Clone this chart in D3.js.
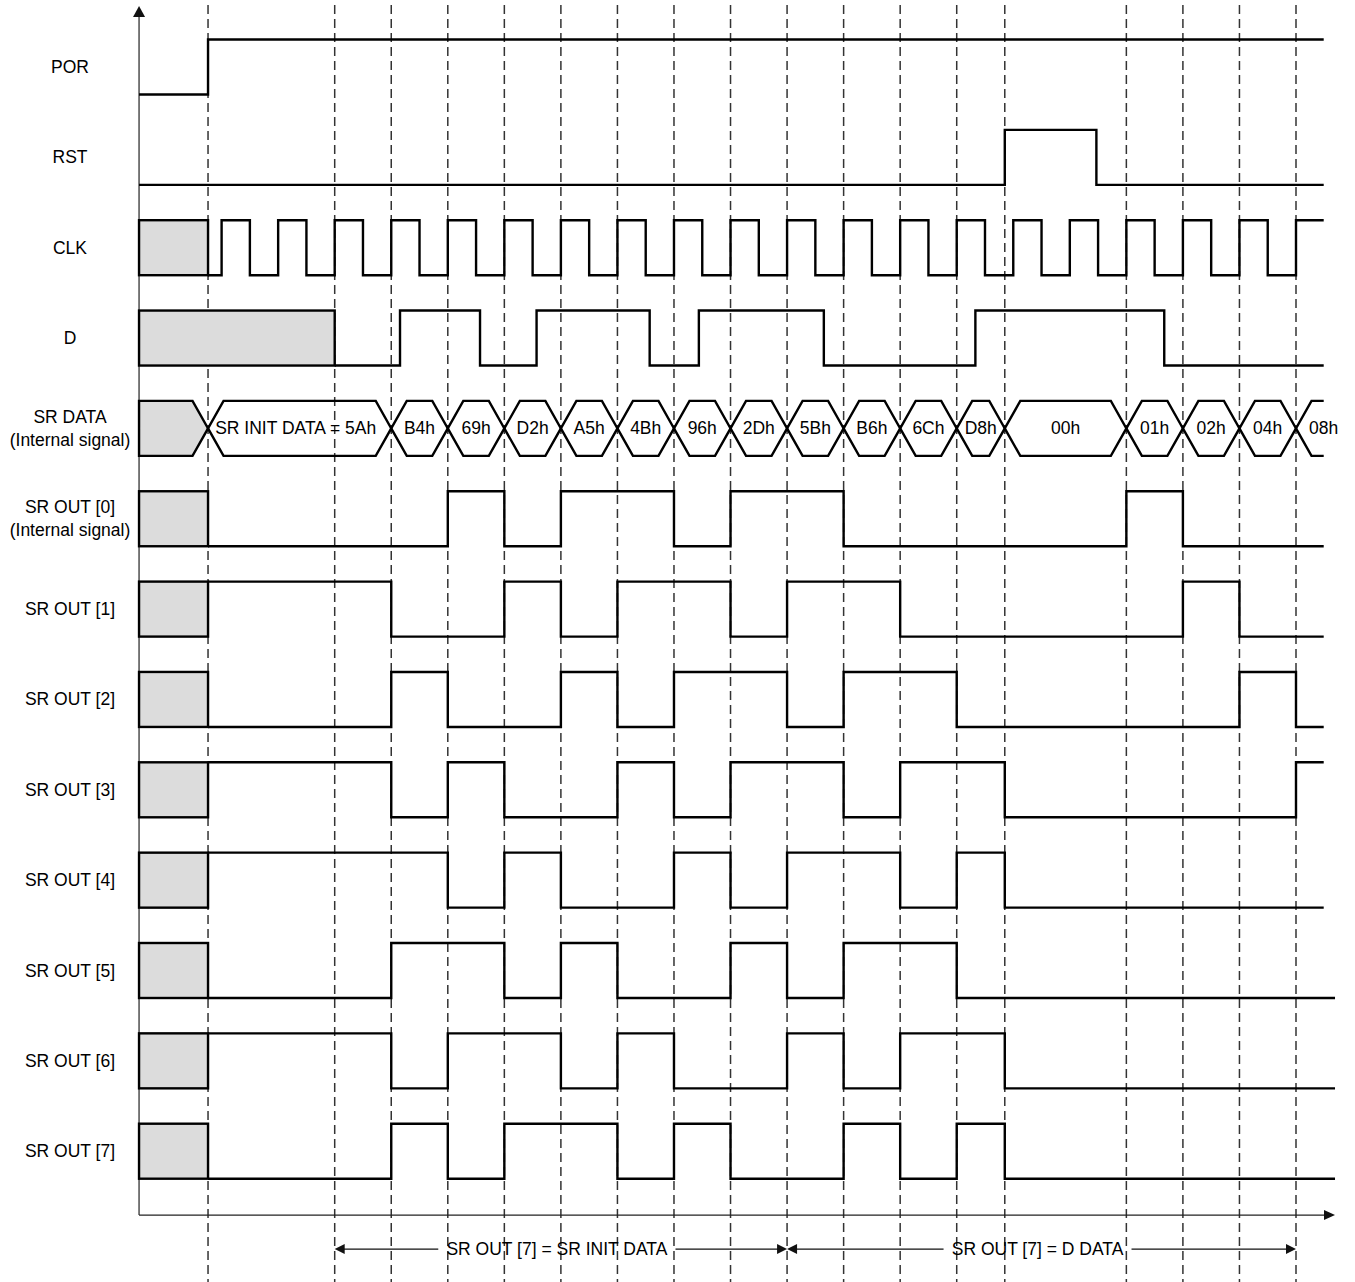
<!DOCTYPE html>
<html lang="en">
<head>
<meta charset="utf-8">
<script src="https://d3js.org/d3.v7.min.js"></script>
<style>
  body { margin: 0; background: #fff; }
  svg text { font-family: "Liberation Sans", Arial, sans-serif; font-size: 17.5px; fill: #000; }
</style>
</head>
<body>
<svg id="chart"></svg>
<script>
// ---- data (time in clock cycles, 0 = first marked rising edge) ----
const signals = ["POR", "RST", "CLK", "D", "SR DATA", "SR OUT [0]", "SR OUT [1]", "SR OUT [2]",
  "SR OUT [3]", "SR OUT [4]", "SR OUT [5]", "SR OUT [6]", "SR OUT [7]"];
const subLabels = { "SR DATA": "(Internal signal)", "SR OUT [0]": "(Internal signal)" };

const tOrigin = -3.46;   // where the time axis starts
const tPor = -2.24;      // POR release
const tEnd = 17.49;
const tEndLong = 17.69;

const porLevels = [[tOrigin, 0], [tPor, 1]];
const rstLevels = [[tOrigin, 0], [11.85, 1], [13.47, 0]];
const clkRise = [-2, -1, 0, 1, 2, 3, 4, 5, 6, 7, 8, 9, 10, 11, 12, 13, 14, 15, 16, 17];
const dLevels = [[0, 0], [1.155, 1], [2.57, 0], [3.57, 1], [5.57, 0], [6.44, 1], [8.65, 0],
  [11.33, 1], [14.67, 0]];

const srTimes = [tPor, 1, 2, 3, 4, 5, 6, 7, 8, 9, 10, 11, 11.85, 14, 15, 16, 17];
const srValues = ["SR INIT DATA = 5Ah", "B4h", "69h", "D2h", "A5h", "4Bh", "96h", "2Dh", "5Bh",
  "B6h", "6Ch", "D8h", "00h", "01h", "02h", "04h", "08h"];

// one level per SR DATA segment
const srOut0 = [0, 0, 1, 0, 1, 1, 0, 1, 1, 0, 0, 0, 0, 1, 0, 0, 0];
const srOut1 = [1, 0, 0, 1, 0, 1, 1, 0, 1, 1, 0, 0, 0, 0, 1, 0, 0];
const srOut2 = [0, 1, 0, 0, 1, 0, 1, 1, 0, 1, 1, 0, 0, 0, 0, 1, 0];
const srOut3 = [1, 0, 1, 0, 0, 1, 0, 1, 1, 0, 1, 1, 0, 0, 0, 0, 1];
const srOut4 = [1, 1, 0, 1, 0, 0, 1, 0, 1, 1, 0, 1, 0, 0, 0, 0, 0];
const srOut5 = [0, 1, 1, 0, 1, 0, 0, 1, 0, 1, 1, 0, 0, 0, 0, 0, 0];
const srOut6 = [1, 0, 1, 1, 0, 1, 0, 0, 1, 0, 1, 1, 0, 0, 0, 0, 0];
const srOut7 = [0, 1, 0, 1, 1, 0, 1, 0, 0, 1, 0, 1, 0, 0, 0, 0, 0];
const srOuts = [srOut0, srOut1, srOut2, srOut3, srOut4, srOut5, srOut6, srOut7];
const srOutEnds = [tEnd, tEnd, tEnd, tEnd, tEnd, tEndLong, tEndLong, tEndLong];

const markers = [tPor, 0, 1, 2, 3, 4, 5, 6, 7, 8, 9, 10, 11, 11.85, 14, 15, 16, 17];
const spans = [
  { from: 0, to: 8, text: "SR OUT [7] = SR INIT DATA" },
  { from: 8, to: 17, text: "SR OUT [7] = D DATA" }
];

// ---- layout ----
const W = 1355, H = 1282;
const levelH = 55, slant = 15.5;
const grey = "#dcdcdc";

const svg = d3.select("#chart").attr("width", W).attr("height", H);

const x = d3.scaleLinear().domain([0, 17]).range([334.7, 1296]);
const y = d3.scaleBand().domain(signals).range([39.5, 39.5 + 13 * 90.35]).padding(0);
const lev = (name, v) => y(name) + (1 - v) * levelH;
const axisY = y.range()[1] + 1;

// dashed markers
svg.append("g").selectAll("line").data(markers).join("line")
  .attr("x1", d => x(d)).attr("x2", d => x(d))
  .attr("y1", 5).attr("y2", H)
  .attr("stroke", "#333").attr("stroke-width", 1.5).attr("stroke-dasharray", "9,5");

// axes
const x0 = x(tOrigin);
svg.append("line").attr("x1", x0).attr("x2", x0).attr("y1", axisY).attr("y2", 15)
  .attr("stroke", "#222").attr("stroke-width", 1.2);
svg.append("path").attr("d", `M${x0},6 L${x0 - 6},17 L${x0 + 6},17 Z`).attr("fill", "#111");
const xa = x(tEndLong);
svg.append("line").attr("x1", x0).attr("x2", xa - 10).attr("y1", axisY).attr("y2", axisY)
  .attr("stroke", "#222").attr("stroke-width", 1.2);
svg.append("path").attr("d", `M${xa},${axisY} L${xa - 11},${axisY - 5} L${xa - 11},${axisY + 5} Z`).attr("fill", "#111");

// labels
const lab = svg.append("g");
signals.forEach(name => {
  const cy = y(name) + levelH / 2;
  const sub = subLabels[name];
  lab.append("text").attr("x", 70).attr("y", sub ? cy - 11.3 : cy)
    .attr("text-anchor", "middle").attr("dominant-baseline", "central").text(name);
  if (sub) lab.append("text").attr("x", 70).attr("y", cy + 11.3)
    .attr("text-anchor", "middle").attr("dominant-baseline", "central").text(sub);
});

const wave = svg.append("g").attr("fill", "none").attr("stroke", "#000")
  .attr("stroke-width", 2.4).attr("stroke-linejoin", "miter");
const line = d3.line().x(d => x(d[0])).y(d => d[1]);

function stepPoints(name, changes, end) {
  const pts = [];
  changes.forEach((c, i) => {
    if (i > 0) pts.push([c[0], lev(name, changes[i - 1][1])]);
    pts.push([c[0], lev(name, c[1])]);
  });
  pts.push([end, lev(name, changes[changes.length - 1][1])]);
  return pts;
}

function greyBox(name, t1) {
  wave.append("rect").attr("x", x(tOrigin)).attr("y", y(name))
    .attr("width", x(t1) - x(tOrigin)).attr("height", levelH).attr("fill", grey);
}

// POR, RST
wave.append("path").attr("d", line(stepPoints("POR", porLevels, tEnd)));
wave.append("path").attr("d", line(stepPoints("RST", rstLevels, tEnd)));

// CLK
greyBox("CLK", tPor);
const clkChanges = [[tPor, 0]];
clkRise.forEach(r => {
  clkChanges.push([r, 1]);
  if (r + 0.5 < tEnd) clkChanges.push([r + 0.5, 0]);
});
wave.append("path").attr("d", line(stepPoints("CLK", clkChanges, tEnd)));

// D
greyBox("D", 0);
wave.append("path").attr("d", line(stepPoints("D", dLevels, tEnd)));

// SR DATA bus
{
  const top = y("SR DATA"), bot = top + levelH, mid = top + levelH / 2;
  const a = x(tOrigin), c = x(tPor);
  wave.append("path").attr("fill", grey)
    .attr("d", `M${a},${top} L${c - slant},${top} L${c},${mid} L${c - slant},${bot} L${a},${bot} Z`);
  srTimes.forEach((t0, i) => {
    const l = x(t0);
    const last = i === srTimes.length - 1;
    const r = last ? x(tEnd) : x(srTimes[i + 1]);
    if (last) {
      wave.append("path").attr("d",
        `M${r},${top} L${l + slant},${top} L${l},${mid} L${l + slant},${bot} L${r},${bot}`);
    } else {
      wave.append("path").attr("d",
        `M${l},${mid} L${l + slant},${top} L${r - slant},${top} L${r},${mid} L${r - slant},${bot} L${l + slant},${bot} Z`);
    }
    svg.append("text").attr("x", last ? r : (l + r) / 2 - (i === 0 ? 4 : 0)).attr("y", mid)
      .attr("text-anchor", "middle").attr("dominant-baseline", "central").text(srValues[i]);
  });
}

// SR OUT rows
srOuts.forEach((bits, k) => {
  const name = signals[5 + k];
  greyBox(name, tPor);
  const changes = bits.map((b, i) => [srTimes[i], b]);
  wave.append("path").attr("d", line(stepPoints(name, changes, srOutEnds[k])));
});

// bottom spans
const spanY = axisY + 34;
spans.forEach(s => {
  const l = x(s.from), r = x(s.to), cx = (l + r) / 2 - 4;
  const t = svg.append("text").attr("x", cx).attr("y", spanY)
    .attr("text-anchor", "middle").attr("dominant-baseline", "central").text(s.text);
  const w = t.node().getBBox().width;
  const g = svg.append("g").attr("stroke", "#111").attr("stroke-width", 1.2);
  g.append("line").attr("x1", l + 8).attr("x2", cx - w / 2 - 8).attr("y1", spanY).attr("y2", spanY);
  g.append("line").attr("x1", cx + w / 2 + 8).attr("x2", r - 8).attr("y1", spanY).attr("y2", spanY);
  svg.append("path").attr("fill", "#111")
    .attr("d", `M${l},${spanY} L${l + 10},${spanY - 5} L${l + 10},${spanY + 5} Z`);
  svg.append("path").attr("fill", "#111")
    .attr("d", `M${r},${spanY} L${r - 10},${spanY - 5} L${r - 10},${spanY + 5} Z`);
});
</script>
</body>
</html>
